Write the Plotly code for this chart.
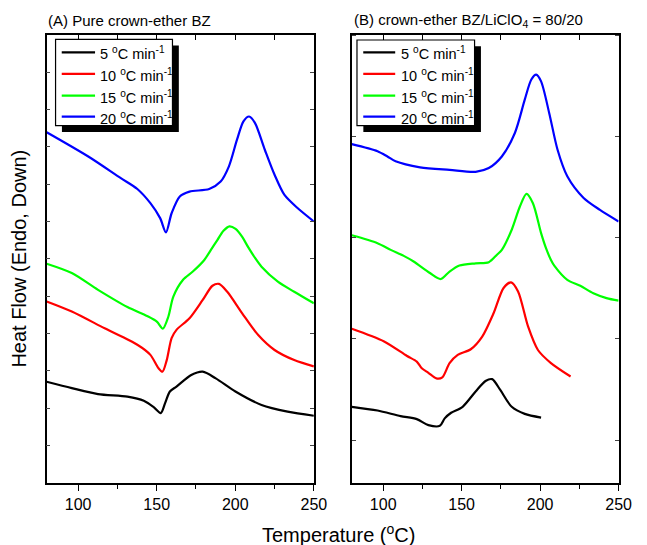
import plotly.graph_objects as go

# ---- DSC traces, panel A: pure crown-ether BZ ----
T_A_5 = [80, 96.0, 112.7, 131.4, 141.8, 148.1, 152.6, 155.3, 158.4, 162.6, 172.0, 179.3, 187.6, 200.1, 216.7, 233.3, 250]
HF_A_5 = [2.71, 2.54, 2.38, 2.31, 2.20, 2.03, 1.87, 2.13, 2.45, 2.58, 2.89, 2.98, 2.80, 2.45, 2.09, 1.91, 1.80]

T_A_10 = [80, 96.0, 116.9, 137.7, 146.0, 151.2, 153.7, 156.4, 159.5, 162.6, 170.9, 179.3, 185.5, 189.6, 194.9, 204.3, 214.6, 225.0, 237.5, 250]
HF_A_10 = [4.86, 4.59, 4.14, 3.70, 3.43, 3.07, 2.98, 3.29, 3.88, 4.10, 4.41, 4.90, 5.28, 5.33, 5.12, 4.55, 3.96, 3.56, 3.29, 3.12]

T_A_15 = [80, 96.0, 112.7, 131.4, 143.9, 150.1, 153.9, 157.4, 160.6, 166.8, 173.0, 180.3, 184.5, 188.7, 192.5, 196.3, 200.2, 204.2, 208.4, 212.5, 216.7, 227.1, 237.5, 250]
HF_A_15 = [5.87, 5.62, 5.17, 4.71, 4.47, 4.32, 4.13, 4.45, 4.99, 5.44, 5.66, 5.97, 6.24, 6.51, 6.75, 6.87, 6.80, 6.60, 6.30, 6.03, 5.79, 5.39, 5.12, 4.81]

T_A_20 = [80, 106.5, 127.2, 137.7, 146.0, 152.2, 155.9, 159.5, 164.7, 170.9, 183.4, 190.7, 195.9, 201.1, 205.2, 208.8, 212.5, 218.8, 225.0, 231.3, 239.6, 250]
HF_A_20 = [9.39, 8.74, 8.16, 7.87, 7.49, 7.09, 6.71, 7.22, 7.67, 7.80, 7.87, 8.07, 8.47, 9.19, 9.68, 9.81, 9.64, 8.92, 8.25, 7.71, 7.36, 7.00]

# ---- DSC traces, panel B: crown-ether BZ/LiClO4 = 80/20 ----
T_B_5 = [80, 96.4, 111.1, 121.4, 128.8, 136.1, 139.2, 143.3, 150.6, 158.9, 165.2, 169.4, 174.6, 181.9, 190.2, 200.6]
HF_B_5 = [2.04, 1.94, 1.79, 1.71, 1.55, 1.53, 1.73, 1.88, 2.04, 2.45, 2.73, 2.78, 2.49, 2.04, 1.85, 1.75]

T_B_10 = [80, 100.6, 115.2, 121.4, 124.6, 128.8, 133.9, 137.7, 142.3, 147.5, 155.8, 163.1, 170.4, 176.7, 181.5, 186.0, 192.3, 198.6, 206.9, 219.4]
HF_B_10 = [4.13, 3.79, 3.40, 3.25, 3.07, 2.95, 2.80, 2.83, 3.21, 3.43, 3.58, 3.92, 4.55, 5.22, 5.37, 5.12, 4.19, 3.56, 3.21, 2.85]

T_B_15 = [80, 96.4, 104.8, 113.1, 119.4, 129.8, 136.7, 142.3, 148.6, 158.9, 167.3, 172.5, 175.6, 181.9, 187.1, 191.3, 195.4, 200.6, 203.8, 206.9, 209.0, 217.3, 225.6, 233.9, 242.3, 250]
HF_B_15 = [6.63, 6.42, 6.24, 6.08, 5.93, 5.62, 5.46, 5.66, 5.82, 5.88, 5.91, 6.11, 6.24, 6.78, 7.40, 7.74, 7.49, 6.69, 6.28, 5.97, 5.82, 5.44, 5.28, 5.08, 4.95, 4.88]

T_B_20 = [80, 96.4, 102.7, 107.9, 123.5, 142.3, 158.9, 167.3, 175.6, 183.9, 190.2, 194.4, 197.5, 200.6, 205.8, 211.1, 217.3, 227.7, 238.1, 250]
HF_B_20 = [9.07, 8.88, 8.74, 8.61, 8.45, 8.38, 8.33, 8.43, 8.74, 9.37, 10.26, 10.80, 10.93, 10.75, 9.90, 8.92, 8.21, 7.63, 7.31, 7.00]

RATES = ["5", "10", "15", "20"]
COLORS = ["#000000", "#ff0000", "#00ff00", "#0000ff"]
PANEL_TITLES = ["(A) Pure crown-ether BZ", "(B) crown-ether BZ/LiClO<sub>4</sub> = 80/20"]
X_TITLE = "Temperature (<sup>o</sup>C)"
Y_TITLE = "Heat Flow (Endo, Down)"

W, H = 647, 545
FONT = "Arial, Liberation Sans, sans-serif"


def px(x):
    return x / W


def py(y):
    return 1 - y / H


fig = go.Figure()

panels = [
    ("x", "y", [(T_A_5, HF_A_5), (T_A_10, HF_A_10), (T_A_15, HF_A_15), (T_A_20, HF_A_20)]),
    ("x2", "y2", [(T_B_5, HF_B_5), (T_B_10, HF_B_10), (T_B_15, HF_B_15), (T_B_20, HF_B_20)]),
]
for xa, ya, series in panels:
    for (t, hf), rate, col in zip(series, RATES, COLORS):
        fig.add_trace(go.Scatter(
            x=t, y=hf, xaxis=xa, yaxis=ya, mode="lines",
            line=dict(color=col, width=2.2, shape="spline", smoothing=0.8),
            name=f"{rate} °C/min", showlegend=False, hoverinfo="skip",
        ))

x_dom_a = [px(47.6), px(320.3)]
x_dom_b = [px(359.0), px(631.3)]
y_dom = [py(483.0), py(34.7)]

axis_line = dict(showline=True, linecolor="black", linewidth=1.6, showgrid=False, zeroline=False)
x_common = dict(
    range=[80, 250], ticks="outside", ticklen=6, tickwidth=1.3, tickcolor="black",
    tick0=100, dtick=50, mirror=True,
    minor=dict(ticks="outside", ticklen=4, tickwidth=1.3, tickcolor="black", dtick=25, tick0=100),
    tickfont=dict(family=FONT, size=16, color="black"), **axis_line,
)
top_common = dict(
    range=[80, 250], side="top", ticks="inside", ticklen=5, tickwidth=1.2, tickcolor="black",
    tick0=100, dtick=25, showticklabels=False, showline=False, showgrid=False, zeroline=False,
)
y_common = dict(
    range=[0, 12], ticks="inside", ticklen=4, tickwidth=1, tickcolor="#444",
    showticklabels=False, mirror="ticks", domain=y_dom, **axis_line,
)

fig.update_layout(
    width=W, height=H,
    margin=dict(l=0, r=0, t=0, b=0),
    paper_bgcolor="white", plot_bgcolor="white",
    showlegend=False,
    xaxis=dict(domain=x_dom_a, anchor="y", **x_common),
    xaxis2=dict(domain=x_dom_b, anchor="y2", **x_common),
    xaxis3=dict(overlaying="x", anchor="y", **top_common),
    xaxis4=dict(overlaying="x2", anchor="y2", **top_common),
    yaxis=dict(anchor="x", tick0=0, dtick=1, **y_common),
    yaxis2=dict(anchor="x2", tick0=1.151, dtick=2.705, **y_common),
)

# empty traces so the top tick axes are rendered
fig.add_trace(go.Scatter(x=[], y=[], xaxis="x3", yaxis="y", showlegend=False))
fig.add_trace(go.Scatter(x=[], y=[], xaxis="x4", yaxis="y2", showlegend=False))

shapes = []
annotations = []

# panel titles
for title, x0 in zip(PANEL_TITLES, [46.7, 359.0]):
    annotations.append(dict(
        x=px(x0), y=py(20), xref="paper", yref="paper", xanchor="left", yanchor="middle",
        text=title, showarrow=False, font=dict(family=FONT, size=15, color="black"),
    ))

# boxed legends with drop shadow
legend_boxes = [
    dict(box=(56.7, 39.3, 176.0, 125.7), line_x=(63.0, 97.0), text_x=100.0),
    dict(box=(364.3, 40.0, 484.3, 125.7), line_x=(370.7, 403.3), text_x=407.3),
]
row_y = [52.3, 73.8, 95.7, 116.7]
for lg in legend_boxes:
    x0, y0, x1, y1 = lg["box"]
    shapes.append(dict(type="rect", xref="paper", yref="paper",
                       x0=px(x0 + 6.5), x1=px(x1 + 6.5), y0=py(y0 + 6.2), y1=py(y1 + 6.2),
                       fillcolor="black", line=dict(width=0), layer="above"))
    shapes.append(dict(type="rect", xref="paper", yref="paper",
                       x0=px(x0), x1=px(x1), y0=py(y0), y1=py(y1),
                       fillcolor="white", line=dict(color="black", width=1.2), layer="above"))
    for ry, rate, col in zip(row_y, RATES, COLORS):
        shapes.append(dict(type="line", xref="paper", yref="paper",
                           x0=px(lg["line_x"][0]), x1=px(lg["line_x"][1]), y0=py(ry), y1=py(ry),
                           line=dict(color=col, width=2.2), layer="above"))
        annotations.append(dict(
            x=px(lg["text_x"]), y=py(ry + 1), xref="paper", yref="paper",
            xanchor="left", yanchor="middle", showarrow=False,
            text=f"{rate} <sup>o</sup>C min<sup>-1</sup>",
            font=dict(family=FONT, size=14.5, color="black"),
        ))

# axis titles
annotations.append(dict(
    x=px(345), y=py(533), xref="paper", yref="paper", xanchor="center", yanchor="middle",
    text=X_TITLE, showarrow=False, font=dict(family=FONT, size=20, color="black"),
))
annotations.append(dict(
    x=px(19), y=py(259), xref="paper", yref="paper", xanchor="center", yanchor="middle",
    text=Y_TITLE, textangle=-90, showarrow=False, font=dict(family=FONT, size=20, color="black"),
))

fig.update_layout(shapes=shapes, annotations=annotations)

fig.write_html("out.html")
